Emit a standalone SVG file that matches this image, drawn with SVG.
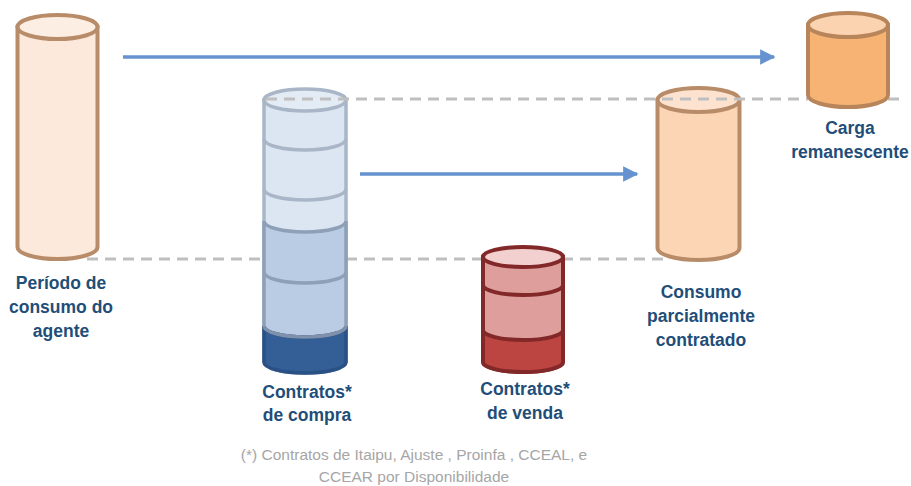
<svg xmlns="http://www.w3.org/2000/svg" width="911" height="486" viewBox="0 0 911 486">
<style>
.lbl{font-family:"Liberation Sans",Arial,sans-serif;font-weight:bold;font-size:17.5px;fill:#1f4e79;text-anchor:middle}
.note{font-family:"Liberation Sans",Arial,sans-serif;font-size:15.5px;fill:#a6a6a6;text-anchor:middle}
.dash{stroke:#bfbfbf;stroke-width:3;stroke-dasharray:11 7;fill:none}
.arrow{stroke:#6693cf;stroke-width:3.5;fill:none}
.peach{stroke:#b88c69;stroke-width:4}
</style>
<defs>
<marker id="ah" viewBox="0 0 10 10" refX="9" refY="5" markerWidth="5" markerHeight="4.4" markerUnits="strokeWidth" orient="auto">
<path d="M0,0 L10,5 L0,10 Z" fill="#6693cf"/>
</marker>
</defs>
<rect width="911" height="486" fill="#ffffff"/>

<g id="connectors">
<line class="dash" x1="87" y1="259" x2="264" y2="259"/>
<line class="dash" x1="346" y1="259" x2="666" y2="259"/>
<line class="arrow" x1="123" y1="57" x2="774" y2="57" marker-end="url(#ah)"/>
<line class="arrow" x1="360" y1="174" x2="637" y2="174" marker-end="url(#ah)"/>
</g>

<g id="periodo">
<path class="peach" d="M17.5,27 L17.5,247 A40 12 0 0 0 97.5,247 L97.5,27 Z" fill="#fde9db"/>
<ellipse class="peach" cx="57.5" cy="27" rx="40" ry="12" fill="#fdeee4"/>
<text class="lbl" x="61" y="289">Período de</text>
<text class="lbl" x="61" y="313">consumo do</text>
<text class="lbl" x="61" y="337">agente</text>
</g>

<g id="compra">
<path d="M264,100 L264,362 A41 11 0 0 0 346,362 L346,100 Z" fill="#dce6f2" stroke="#a8b6c7" stroke-width="3.5"/>
<path d="M264,221 A41 11 0 0 0 346,221 L346,362 A41 11 0 0 1 264,362 Z" fill="#b9cce4" stroke="#8e9fb8" stroke-width="3.5"/>
<path d="M264,326 A41 11 0 0 0 346,326 L346,362 A41 11 0 0 1 264,362 Z" fill="#335f96" stroke="#2a5185" stroke-width="3.5"/>
<path d="M264,139 A41 11 0 0 0 346,139 M264,189 A41 11 0 0 0 346,189" fill="none" stroke="#a8b6c7" stroke-width="3.5"/>
<path d="M264,272 A41 11 0 0 0 346,272" fill="none" stroke="#8e9fb8" stroke-width="3.5"/>
<path d="M264,326 A41 11 0 0 0 346,326" fill="none" stroke="#7f91ab" stroke-width="3.5"/>
<ellipse cx="305" cy="100" rx="41" ry="11" fill="#e3ebf5" stroke="#a8b6c7" stroke-width="3.5"/>
<text class="lbl" x="307" y="398">Contratos*</text>
<text class="lbl" x="307" y="421">de compra</text>
</g>

<g id="venda">
<path d="M483,257 L483,362 A40 10 0 0 0 563,362 L563,257 Z" fill="#dd9e9c" stroke="#822828" stroke-width="4"/>
<path d="M483,330 A40 10 0 0 0 563,330 L563,362 A40 10 0 0 1 483,362 Z" fill="#bc4541" stroke="#822828" stroke-width="4"/>
<path d="M483,285 A40 10 0 0 0 563,285" fill="none" stroke="#822828" stroke-width="4"/>
<ellipse cx="523" cy="257" rx="40" ry="10" fill="#f1d0cf" stroke="#822828" stroke-width="4"/>
<text class="lbl" x="525" y="395">Contratos*</text>
<text class="lbl" x="525" y="419">de venda</text>
</g>

<g id="consumo">
<path class="peach" d="M657.5,100 L657.5,248 A41 12 0 0 0 739.5,248 L739.5,100 Z" fill="#fcd5b5"/>
<ellipse class="peach" cx="698.5" cy="100" rx="41" ry="12" fill="#fde3cf"/>
<text class="lbl" x="701" y="298">Consumo</text>
<text class="lbl" x="701" y="322">parcialmente</text>
<text class="lbl" x="701" y="346">contratado</text>
</g>

<line class="dash" x1="266" y1="99" x2="808" y2="99"/>
<line class="dash" x1="888" y1="99" x2="905" y2="99"/>

<g id="carga">
<path d="M808,25 L808,95 A40 12 0 0 0 888,95 L888,25 Z" fill="#f7b374" stroke="#b8855a" stroke-width="4"/>
<ellipse cx="848" cy="25" rx="40" ry="12" fill="#fbd3b0" stroke="#b8855a" stroke-width="4"/>
<text class="lbl" x="850" y="134">Carga</text>
<text class="lbl" x="850" y="158">remanescente</text>
</g>

<g id="nota">
<text class="note" x="414" y="460">(*) Contratos de Itaipu, Ajuste , Proinfa , CCEAL, e</text>
<text class="note" x="414" y="482">CCEAR por Disponibilidade</text>
</g>
</svg>
